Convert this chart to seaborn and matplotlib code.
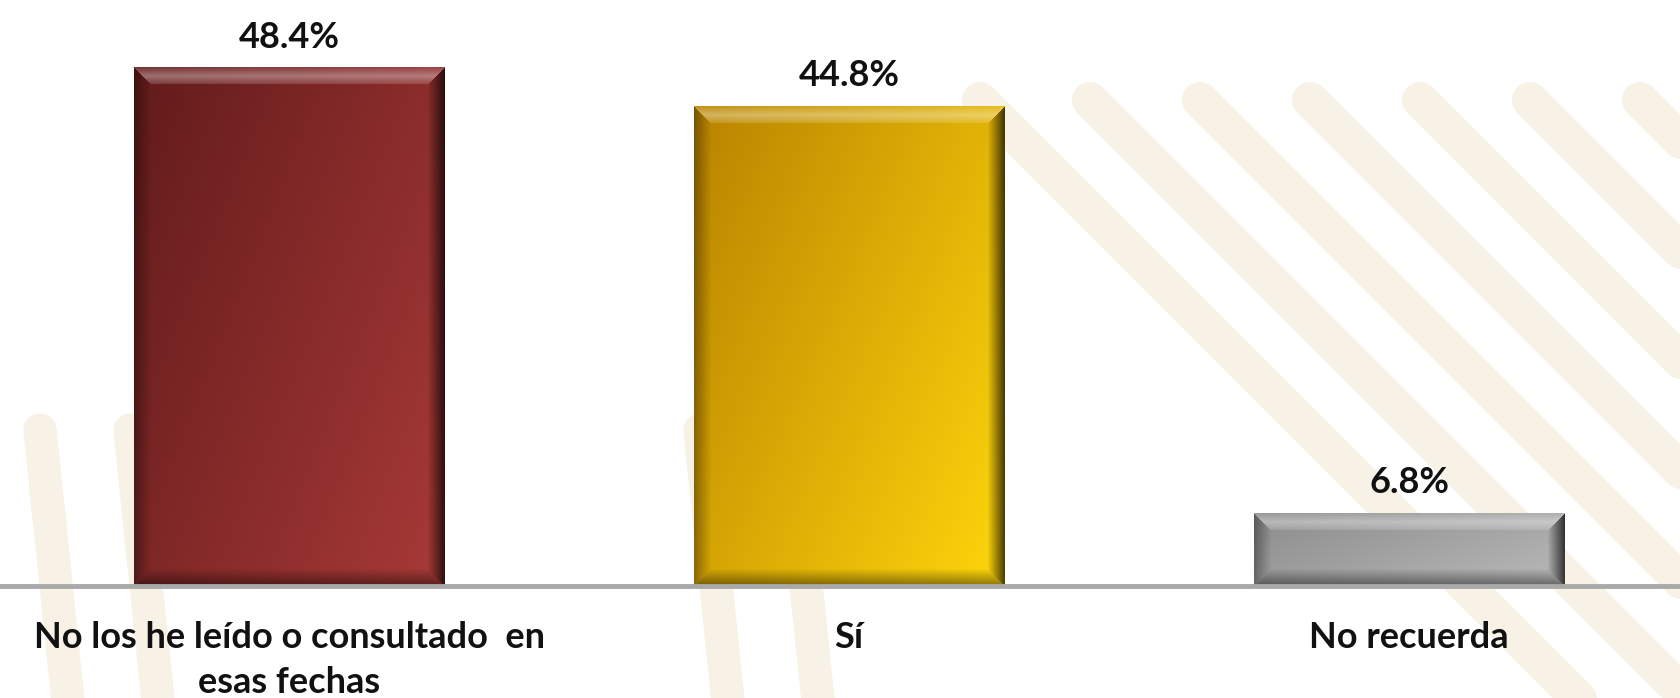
import numpy as np
import pandas as pd
import matplotlib
matplotlib.use("Agg")
import matplotlib.pyplot as plt
import matplotlib.colors as mcolors
import seaborn as sns

# datos
categorias = ["No los he leído o consultado  en\nesas fechas", "Sí", "No recuerda"]
porcentajes = [48.4, 44.8, 6.8]
etiquetas = ["48.4%", "44.8%", "6.8%"]
colores_ini = ["#621b1b", "#b98300", "#8c8c8c"]
colores_fin = ["#a83a38", "#ffd60c", "#b9b9b9"]

df = pd.DataFrame({"cat": categorias, "pct": porcentajes})

sns.set_theme(style="white")
plt.rcParams["font.family"] = ["Lato", "DejaVu Sans"]

fig = plt.figure(figsize=(16.8, 6.98), dpi=100)
fig.patch.set_facecolor("white")

# fondo decorativo (franjas crema)
crema = "#f8f2e6"
bg = fig.add_axes([0, 0, 1, 1], zorder=-5)
bg.set_xlim(0, 1680)
bg.set_ylim(698, 0)
bg.axis("off")
for x0 in [980, 1090, 1200, 1310, 1420, 1530, 1640]:
    bg.plot([x0, x0 + 620], [100, 720], color=crema, lw=26, solid_capstyle="round")
for x0 in [40, 130, 700, 790]:
    bg.plot([x0, x0 + 30], [430, 720], color=crema, lw=24, solid_capstyle="round")

ax = fig.add_axes([0, 0.1605, 1, 0.8395])
ax.patch.set_alpha(0)
sns.barplot(data=df, x="cat", y="pct", ax=ax, width=0.555,
            color="#888888", saturation=1, edgecolor="none", zorder=2)
ax.set_xlim(-0.517, 2.484)
ax.set_ylim(0, 54.7)


def barra_img(w, h, c0, c1, bevel=17):
    c0 = np.array(mcolors.to_rgb(c0))
    c1 = np.array(mcolors.to_rgb(c1))
    yy, xx = np.mgrid[0:h, 0:w]
    t = (xx / max(w - 1, 1) * 0.6 + yy / max(h - 1, 1) * 0.4)
    img = c0 + (c1 - c0) * t[..., None]
    dl, dr, dt, db = xx, w - 1 - xx, yy, h - 1 - yy
    dmin = np.minimum(np.minimum(dl, dr), np.minimum(dt, db))
    zona = dmin < bevel
    f = 1 - dmin / bevel
    out = img.copy()
    top = zona & (dt == dmin)
    left = zona & (dl == dmin) & ~top
    right = zona & (dr == dmin) & ~top
    bot = zona & (db == dmin) & ~top & ~left & ~right
    out[top] = img[top] + (1 - img[top]) * (0.12 + 0.25 * (1 - np.abs(f[top] - 0.5) * 2))[:, None]
    out[left] = img[left] * (1 - 0.35 * f[left])[:, None]
    out[right] = img[right] * (1 - 0.7 * f[right])[:, None]
    out[bot] = img[bot] * (1 - 0.45 * f[bot])[:, None]
    return np.clip(out, 0, 1)


fig.canvas.draw()
for patch, c0, c1 in zip(ax.patches, colores_ini, colores_fin):
    bb = patch.get_window_extent()
    w, h = int(round(bb.width)), int(round(bb.height))
    x0 = patch.get_x()
    img = barra_img(w, h, c0, c1)
    im = ax.imshow(img, extent=(x0, x0 + patch.get_width(), 0, patch.get_height()),
                   origin="upper", aspect="auto", zorder=3, interpolation="bilinear")
    im.set_clip_path(patch)
ax.set_xlim(-0.517, 2.484)
ax.set_ylim(0, 54.7)

ax.bar_label(ax.containers[0], labels=etiquetas, padding=10, fontsize=26,
             fontweight="bold", color="#111111")

ax.set_xlabel("")
ax.set_ylabel("")
ax.set_yticks([])
for s in ["left", "right", "top"]:
    ax.spines[s].set_visible(False)
ax.spines["bottom"].set_color("#a9a9a9")
ax.spines["bottom"].set_linewidth(3.5)
ax.spines["bottom"].set_zorder(4)
ax.tick_params(axis="x", length=0, pad=25)
for t in ax.get_xticklabels():
    t.set_fontsize(26)
    t.set_fontweight("bold")
    t.set_color("#111111")
    t.set_linespacing(1.45)

fig.savefig("out.png", dpi=100)
